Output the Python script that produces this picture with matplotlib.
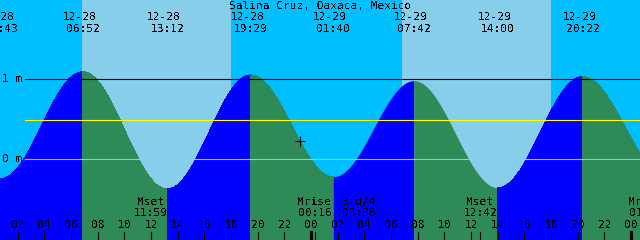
import numpy as np
import matplotlib
matplotlib.use("Agg")
import matplotlib.pyplot as plt
from matplotlib import transforms

plt.rcParams['font.family'] = ['DejaVu Sans Mono']
plt.rcParams['font.size'] = 8
plt.rcParams['text.antialiased'] = False

station = "Salina Cruz, Oaxaca, Mexico"

# highs / lows (metres)
tide_times = ['12-27 18:30', '12-28 00:43', '12-28 06:52', '12-28 13:12', '12-28 19:29',
              '12-29 01:40', '12-29 07:42', '12-29 14:00', '12-29 20:22', '12-30 02:40']
tide_heights = [1.00, -0.24, 1.095, -0.37, 1.054, -0.217, 0.983, -0.355, 1.033, -0.20]
shown_events = tide_times[1:9]

mean_level = 0.49

sunrise = ['12-28 06:49', '12-29 06:49']
sunset = ['12-28 18:00', '12-29 18:00']

moon_names = ['Mset', 'Mrise', '3rd/4', 'Mset', 'Mrise']
moon_times = ['12-28 11:59', '12-29 00:16', '12-29 03:36', '12-29 12:42', '12-30 01:06']

now_time = '12-28 23:10'

start = '12-28 00:40'


def hrs(s):
    md, hm = s.split()
    day = int(md.split('-')[1]) - 28
    h, m = hm.split(':')
    return day * 24 + int(h) + int(m) / 60


tt = np.array([hrs(t) for t in tide_times])
hh = np.array(tide_heights)


def tide_at(t):
    i = np.searchsorted(tt, t) - 1
    a, b = hh[i], hh[i + 1]
    f = (t - tt[i]) / (tt[i + 1] - tt[i])
    return (a + b) / 2 + (a - b) / 2 * np.cos(np.pi * f)


x0 = hrs(start)
x1 = x0 + 48
px = 640 / 48.0  # pixels per hour
top = 159.3 / 80
bottom = top - 3.0

fig = plt.figure(figsize=(6.4, 2.4), dpi=100)
fig.patch.set_facecolor('#00BFFF')
ax = fig.add_axes([0, 0, 1, 1])
ax.set_xlim(x0, x1)
ax.set_ylim(bottom, top)
ax.axis('off')

# daylight
for sr, ss in zip(sunrise, sunset):
    ax.axvspan(hrs(sr), hrs(ss), color='#87CEEB', lw=0)

# tide curve, blue rising / green falling
for i in range(len(tt) - 1):
    t = np.linspace(tt[i], tt[i + 1], 300)
    h = tide_at(np.clip(t, tt[i] + 1e-9, tt[i + 1] - 1e-9))
    col = 'blue' if hh[i + 1] > hh[i] else '#2E8B57'
    ax.fill_between(t, bottom - 1, h, color=col, lw=0, antialiased=False)

# datum lines
xm = 25 / 640
ax.axhline(1, xmin=xm, xmax=1, color='black', lw=0.8)
ax.axhline(0, xmin=xm, xmax=1, color='#87CEEB', lw=0.8)
ax.axhline(mean_level, xmin=xm, xmax=1, color='yellow', lw=0.8)
ax.text(2 / 640, 1, "1 m", transform=ax.get_yaxis_transform(), va='center', ha='left')
ax.text(2 / 640, 0, "0 m", transform=ax.get_yaxis_transform(), va='center', ha='left')

# current time marker
tn = hrs(now_time)
ax.plot(tn, tide_at(tn), marker='+', color='black', ms=7, mew=0.8)

xt = ax.get_xaxis_transform()
xt_date = transforms.offset_copy(xt, fig=fig, x=-3.5, y=0, units='dots')

fig.text(0.5, 1 - 6 / 240, station, ha='center', va='center')

for ev in shown_events:
    d, tm = ev.split()
    ax.text(hrs(ev), 1 - 17 / 240, d, transform=xt_date, ha='center', va='center')
    ax.text(hrs(ev), 1 - 29 / 240, tm, transform=xt, ha='center', va='center')

for name, ev in zip(moon_names, moon_times):
    t = hrs(ev)
    ax.text(t, 1 - 202 / 240, name, transform=xt, ha='center', va='center')
    ax.text(t, 1 - 213 / 240, ev.split()[1], transform=xt, ha='center', va='center')
    ax.plot([t, t], [0, 8 / 240], transform=xt, color='black', lw=0.8)

# hour ticks
for hr in range(2, 49, 2):
    lw = 2.2 if hr % 24 == 0 else 0.8
    ax.plot([hr, hr], [0, 8 / 240], transform=xt, color='black', lw=lw)
    ax.text(hr, 1 - 225 / 240, "%02d" % (hr % 24), transform=xt, ha='center', va='center')

fig.savefig("out.png", dpi=100, facecolor=fig.get_facecolor())
